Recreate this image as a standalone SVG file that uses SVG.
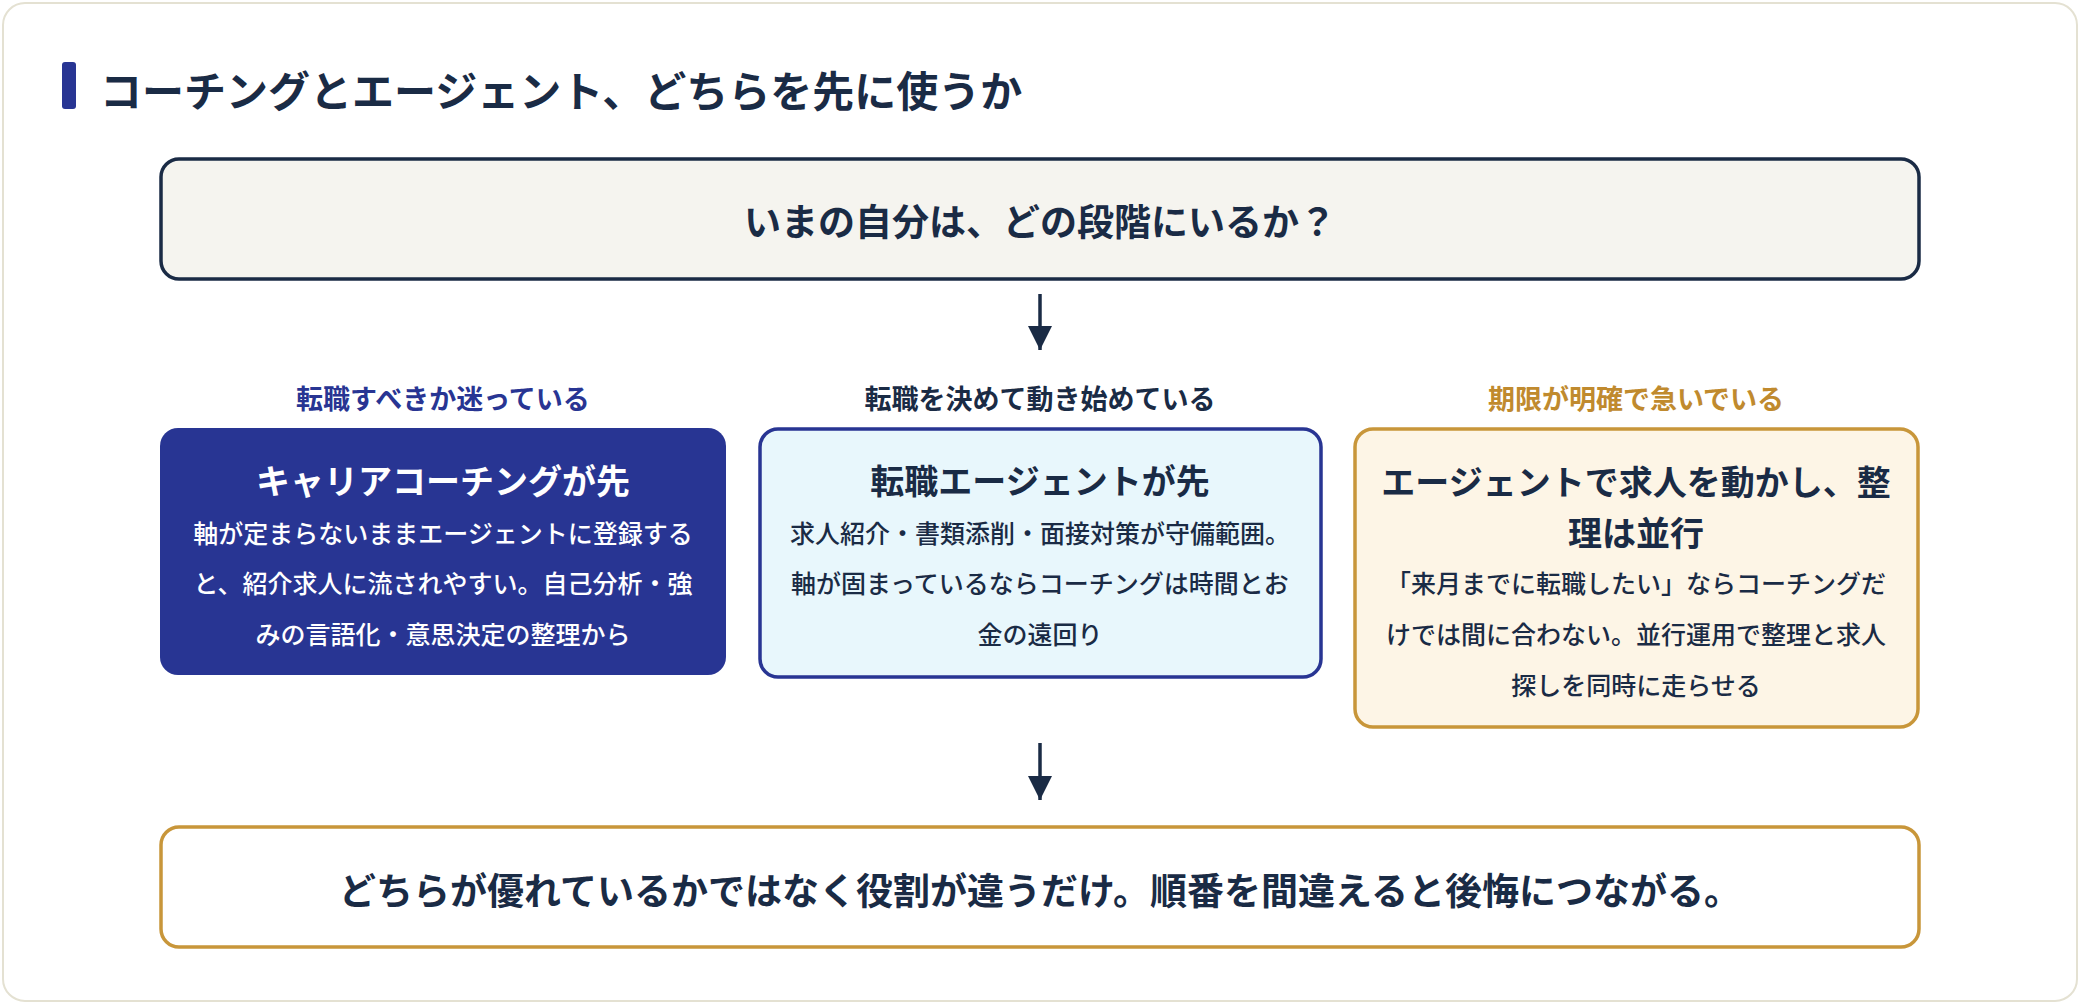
<svg xmlns="http://www.w3.org/2000/svg" width="2080" height="1004" viewBox="0 0 2080 1004">
<style>
text{font-family:"Noto Sans CJK JP","Noto Sans",sans-serif;font-weight:700;text-anchor:middle;dominant-baseline:central}
.big{font-size:37px;fill:#1a2b45}
.lab{font-size:27px}
.ttl{font-size:34px}
.body{font-size:25px;font-weight:500}
.conn{stroke:#1a2b45;stroke-width:3.5;fill:none}
</style>
<defs><marker id="ah" viewBox="0 0 10 10" refX="9" refY="5" markerWidth="8" markerHeight="8" markerUnits="userSpaceOnUse" orient="auto"><path d="M0,0L10,5L0,10z" fill="#1a2b45"/></marker>
<marker id="a2" viewBox="0 0 10 10" refX="10" refY="5" markerWidth="26" markerHeight="24" markerUnits="userSpaceOnUse" orient="auto"><path d="M0,0L10,5L0,10z" fill="#1a2b45"/></marker></defs>
<rect x="3" y="3" width="2074" height="998" rx="22" fill="#fff" stroke="#e4e1d2" stroke-width="2"/>
<rect x="62" y="62" width="14" height="47" rx="3" fill="#283593"/>
<text x="100" y="88" style="font-size:42px;fill:#1a2b45;text-anchor:start">コーチングとエージェント、どちらを先に使うか</text>
<g id="q"><rect x="161" y="159" width="1758" height="120" rx="18" fill="#f5f4ef" stroke="#1a2b45" stroke-width="3.5"/><text class="big" x="1040" y="220">いまの自分は、どの段階にいるか？</text></g>
<g id="connectors"><path class="conn" d="M1040 294V350" marker-end="url(#a2)"/><path class="conn" d="M1040 743V800" marker-end="url(#a2)"/></g>
<g id="n1"><text class="lab" x="443" y="397" fill="#283593">転職すべきか迷っている</text>
<rect x="160" y="428" width="566" height="247" rx="18" fill="#283593"/>
<text class="ttl" x="443" y="479" fill="#fff">キャリアコーチングが先</text>
<text class="body" fill="#fff" x="443" y="532">軸が定まらないままエージェントに登録する</text>
<text class="body" fill="#fff" x="443" y="582">と、紹介求人に流されやすい。自己分析・強</text>
<text class="body" fill="#fff" x="443" y="633">みの言語化・意思決定の整理から</text></g>
<g id="n2"><text class="lab" x="1040" y="397" fill="#1a2b45">転職を決めて動き始めている</text>
<rect x="760" y="429" width="561" height="248" rx="18" fill="#e8f7fc" stroke="#283593" stroke-width="3.5"/>
<text class="ttl" x="1040" y="479" fill="#1a2b45">転職エージェントが先</text>
<text class="body" fill="#1a2b45" x="1040" y="532">求人紹介・書類添削・面接対策が守備範囲。</text>
<text class="body" fill="#1a2b45" x="1040" y="582">軸が固まっているならコーチングは時間とお</text>
<text class="body" fill="#1a2b45" x="1040" y="633">金の遠回り</text></g>
<g id="n3"><text class="lab" x="1636" y="397" fill="#c08a2e">期限が明確で急いでいる</text>
<rect x="1355" y="429" width="563" height="298" rx="18" fill="#fdf5e6" stroke="#c8963a" stroke-width="3.5"/>
<text class="ttl" x="1636" y="480" fill="#1a2b45">エージェントで求人を動かし、整</text>
<text class="ttl" x="1636" y="531" fill="#1a2b45">理は並行</text>
<text class="body" fill="#1a2b45" x="1636" y="582">「来月までに転職したい」ならコーチングだ</text>
<text class="body" fill="#1a2b45" x="1636" y="633">けでは間に合わない。並行運用で整理と求人</text>
<text class="body" fill="#1a2b45" x="1636" y="684">探しを同時に走らせる</text></g>
<g id="concl"><rect x="161" y="827" width="1758" height="120" rx="18" fill="#fff" stroke="#c8963a" stroke-width="3.5"/><text class="big" x="1040" y="889">どちらが優れているかではなく役割が違うだけ。順番を間違えると後悔につながる。</text></g>
</svg>
